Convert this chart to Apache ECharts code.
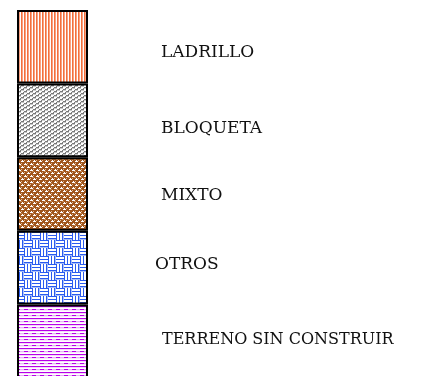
<!DOCTYPE html>
<html>
<head>
<meta charset="utf-8">
<script src="https://cdn.jsdelivr.net/npm/echarts@6/dist/echarts.min.js"></script>
<style>html,body{margin:0;padding:0;background:#fff;overflow:hidden;}#c{width:421px;height:400px;}</style>
</head>
<body>
<div id="c"></div>
<script>
// ---- data ----
const categories = ['VIVIENDA'];
const seriesNames = ['TERRENO SIN CONSTRUIR', 'OTROS', 'MIXTO', 'BLOQUETA', 'LADRILLO']; // bottom to top
const terreno = [20];
const otros = [20];
const mixto = [20];
const bloqueta = [20];
const ladrillo = [20];
const seriesValues = [terreno, otros, mixto, bloqueta, ladrillo];

// ---- style ----
const labelShift = [[145, -1], [138, -3], [144, 2], [144, 8], [144, 6]];
const labelSize = [16, 17, 17, 17, 17];

function tile(w, h, draw) {
  const c = document.createElement('canvas');
  c.width = w; c.height = h;
  const ctx = c.getContext('2d');
  draw(ctx);
  return { image: c, repeat: 'repeat' };
}
function px(ctx, col, x, y, w, h) { ctx.fillStyle = col; ctx.fillRect(x, y, w || 1, h || 1); }

const patLadrillo = tile(3, 4, ctx => {
  px(ctx, '#F3703C', 0, 0, 1, 4);
  px(ctx, '#F8A283', 1, 0, 1, 4);
  px(ctx, '#FFFFFF', 2, 0, 1, 4);
});
const patBloqueta = tile(6, 4, ctx => {
  px(ctx, '#FFFFFF', 0, 0, 6, 4);
  const dark = [[0,3],[1,3],[2,3],[2,2],[3,1],[4,1],[5,1],[5,0]];
  dark.forEach(([x, y]) => px(ctx, '#C8C8C8', x, (y + 1) % 4));
  dark.forEach(([x, y]) => px(ctx, '#7A7A7A', x, y));
});
const patMixto = tile(6, 6, ctx => {
  px(ctx, '#A0561C', 0, 0, 6, 6);
  px(ctx, '#FFFFFF', 1, 1, 1, 1);
  px(ctx, '#FFFFFF', 0, 2, 3, 1);
  px(ctx, '#E0B890', 3, 1, 1, 1);
  px(ctx, '#FFFFFF', 4, 4, 1, 1);
  px(ctx, '#FFFFFF', 3, 5, 3, 1);
  px(ctx, '#E0B890', 0, 4, 1, 1);
  px(ctx, '#C98A55', 2, 3, 2, 1);
});
const patOtros = tile(16, 16, ctx => {
  const cols = ['#2A5BF0', '#FFFFFF', '#FFFFFF', '#2A5BF0', '#FFFFFF', '#FFFFFF', '#2A5BF0', '#A9BEF7'];
  for (let i = 0; i < 8; i++) {
    px(ctx, cols[i], i, 0, 1, 8);
    px(ctx, cols[i], 8 + i, 8, 1, 8);
    px(ctx, cols[i], 8, i, 8, 1);
    px(ctx, cols[i], 0, 8 + i, 8, 1);
  }
});
const patTerreno = tile(8, 6, ctx => {
  px(ctx, '#FFFFFF', 0, 0, 8, 6);
  px(ctx, '#B800E8', 0, 0, 8, 1);
  px(ctx, '#F3D6FB', 0, 1, 8, 1);
  px(ctx, '#B800E8', 0, 3, 4, 1);
  px(ctx, '#E6B0F5', 4, 3, 4, 1);
  px(ctx, '#F8E6FC', 0, 4, 8, 1);
});
const patterns = [patTerreno, patOtros, patMixto, patBloqueta, patLadrillo];

const chart = echarts.init(document.getElementById('c'), null, { renderer: 'canvas' });
chart.setOption({
  animation: false,
  grid: { left: 17, top: 10, width: 71, height: 368 },
  xAxis: { type: 'category', data: categories, show: false },
  yAxis: { type: 'value', min: 0, max: 100, show: false },
  series: seriesNames.map((name, i) => ({
    name: name,
    type: 'bar',
    stack: 'all',
    barWidth: '100%',
    data: seriesValues[i],
    itemStyle: { color: patterns[i], borderColor: '#000', borderWidth: 2 },
    label: {
      show: true,
      position: [labelShift[i][0], '50%'],
      offset: [0, labelShift[i][1]],
      align: 'left',
      verticalAlign: 'middle',
      formatter: name,
      color: '#111',
      fontFamily: 'DejaVu Serif',
      fontSize: labelSize[i]
    }
  }))
});
</script>
</body>
</html>
